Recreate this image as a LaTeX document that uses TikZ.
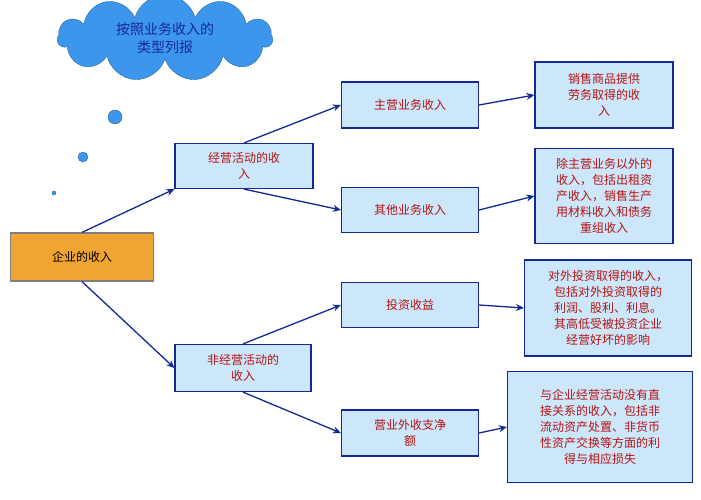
\documentclass[tikz,border=0pt]{standalone}
\usepackage{fontspec}
\setmainfont{Noto Sans CJK SC}
\usetikzlibrary{shapes.symbols,arrows.meta}
\definecolor{boxfill}{RGB}{204,230,250}
\definecolor{boxline}{RGB}{20,40,150}
\definecolor{redtext}{RGB}{180,20,20}
\definecolor{cloudfill}{RGB}{60,150,235}
\definecolor{orangefill}{RGB}{240,165,50}
\tikzset{
  itembox/.style={draw=boxline,fill=boxfill,line width=1.2pt,text=redtext,align=center,font=\fontsize{12}{16}\selectfont,inner sep=2pt},
  link/.style={draw=boxline,line width=1.3pt,-{Stealth[length=8pt,width=7pt]}}
}
\begin{document}
\begin{tikzpicture}[x=1pt,y=-1pt]
    \useasboundingbox[fill=white] (0,0) rectangle (701,500);
    \node[cloud,cloud puffs=11,aspect=2.6,draw=cloudfill!70!black,fill=cloudfill,minimum width=215pt,minimum height=80pt,text=boxline,align=center,font=\fontsize{14}{18}\selectfont] (cloud) at (165,38) {按照业务收入的\\类型列报};
    \fill[cloudfill,draw=cloudfill!70!black] (115,117) circle (7);
    \fill[cloudfill,draw=cloudfill!70!black] (83,157) circle (5);
    \fill[cloudfill,draw=cloudfill!70!black] (54,193) circle (2);
    \node[itembox,fill=orangefill,draw=gray,text=black,minimum width=143pt,minimum height=48pt] (income) at (82,257) {企业的收入};
    \node[itembox,minimum width=138pt,minimum height=45pt] (oper) at (244,166) {经营活动的收\\入};
    \node[itembox,minimum width=136pt,minimum height=47pt] (nonoper) at (243,368) {非经营活动的\\收入};
    \node[itembox,minimum width=137pt,minimum height=46pt] (main) at (410,105) {主营业务收入};
    \node[itembox,minimum width=137pt,minimum height=45pt] (other) at (410,210) {其他业务收入};
    \node[itembox,minimum width=137pt,minimum height=45pt] (invest) at (410,305) {投资收益};
    \node[itembox,minimum width=137pt,minimum height=46pt] (extra) at (410,433) {营业外收支净\\额};
    \node[itembox,minimum width=138pt,minimum height=66pt] (mainnote) at (604,95) {销售商品提供\\劳务取得的收\\入};
    \node[itembox,minimum width=138pt,minimum height=95pt] (othernote) at (604,196) {除主营业务以外的\\收入，包括出租资\\产收入，销售生产\\用材料收入和债务\\重组收入};
    \node[itembox,minimum width=167pt,minimum height=96pt] (investnote) at (608,308) {对外投资取得的收入，\\包括对外投资取得的\\利润、股利、利息。\\其高低受被投资企业\\经营好坏的影响};
    \node[itembox,minimum width=185pt,minimum height=111pt] (extranote) at (600,427) {与企业经营活动没有直\\接关系的收入，包括非\\流动资产处置、非货币\\性资产交换等方面的利\\得与相应损失};
    \draw[link] (income.north) -- (oper.south west);
    \draw[link] (income.south) -- (nonoper.west);
    \draw[link] (oper.north) -- (main.west);
    \draw[link] (oper.south) -- (other.west);
    \draw[link] (nonoper.north) -- (invest.west);
    \draw[link] (nonoper.south) -- (extra.west);
    \draw[link] (main.east) -- (mainnote.west);
    \draw[link] (other.east) -- (othernote.west);
    \draw[link] (invest.east) -- (investnote.west);
    \draw[link] (extra.east) -- (extranote.west);
\end{tikzpicture}
\end{document}
